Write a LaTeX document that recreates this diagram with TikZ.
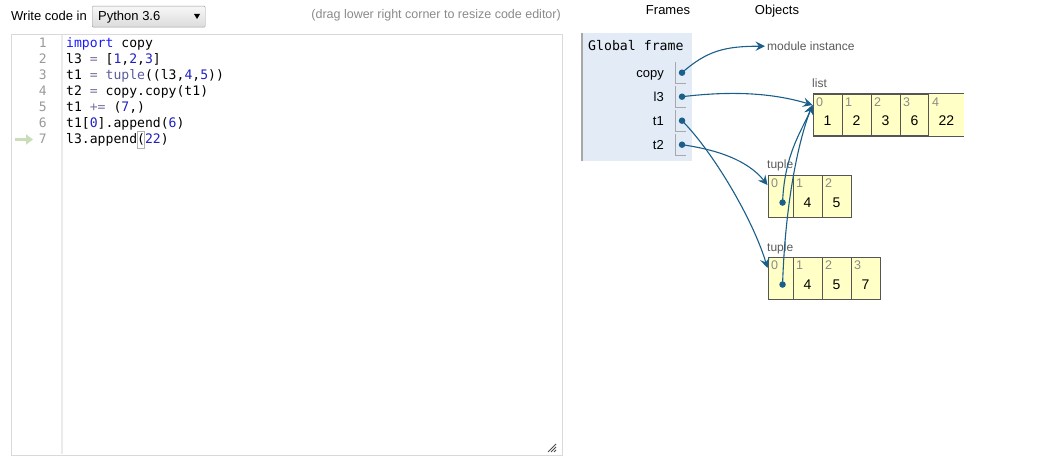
\documentclass[tikz,border=0pt]{standalone}
\usepackage{fontspec}
\setmainfont{Liberation Sans}
\setmonofont{DejaVu Sans Mono}
\usepackage{tikz}
\usetikzlibrary{arrows.meta}

\definecolor{refblue}{HTML}{1A5E8A}
\definecolor{heapyellow}{HTML}{FFFFC6}
\definecolor{heapline}{HTML}{555555}
\definecolor{framebg}{HTML}{E2EBF6}
\definecolor{framegrey}{HTML}{A8A8A8}
\definecolor{hintgrey}{HTML}{8A8A8A}
\definecolor{gutterline}{HTML}{EBEBEB}
\definecolor{editorline}{HTML}{D9D9D9}
\definecolor{curgreen}{HTML}{C8DDB8}
\definecolor{kwblue}{HTML}{1A1AFF}
\definecolor{numblue}{HTML}{2020C0}
\definecolor{bipurple}{HTML}{5A5AA0}
\definecolor{opgrey}{HTML}{7E72A0}

\begin{document}
\begin{tikzpicture}[x=1pt,y=-1pt,
    label13/.style={inner sep=0pt, anchor=base west, font=\fontsize{13}{15}\selectfont},
    code/.style={inner sep=0pt, anchor=base west, font=\ttfamily\fontsize{13.1}{15}\selectfont},
    lnum/.style={inner sep=0pt, anchor=base east, text=black!40, font=\ttfamily\fontsize{13}{15}\selectfont},
    varname/.style={inner sep=0pt, anchor=base east, font=\fontsize{13}{15}\selectfont},
    heaplabel/.style={inner sep=0pt, anchor=base west, text=black!65, font=\fontsize{12}{14}\selectfont},
    cell/.style={draw=heapline, fill=heapyellow, line width=1.1pt, minimum height=42pt, inner sep=0pt, anchor=north west},
    idx/.style={inner sep=0pt, text=hintgrey, font=\fontsize{12.5}{14}\selectfont},
    val/.style={inner sep=0pt, font=\fontsize{14}{16}\selectfont},
    ptr/.style={circle, fill=refblue, inner sep=0pt, minimum size=6.5pt},
    ref/.style={draw=refblue, line width=1.1pt, -{Stealth[length=9.5pt,width=9.5pt,inset=3.5pt]}},
    slot/.style={draw=framegrey, line width=1pt}]
    \useasboundingbox (0,0) rectangle (1054,465);

    % code editor header
    \node[label13] (writein) at (11,20.5) {Write code in};
    \node[draw=black!40, top color=black!3, bottom color=black!14, rounded corners=1pt,
          minimum width=113pt, minimum height=21pt, anchor=north west] (lang) at (92,6) {};
    \node[label13] (langtxt) at (98,20.5) {Python 3.6};
    \fill (194,14) -- (200,14) -- (197,19) -- cycle;
    \node[inner sep=0pt, anchor=base east, text=hintgrey, font=\fontsize{12.5}{14}\selectfont] (hint) at (561,18.5)
        {(drag lower right corner to resize code editor)};

    % editor
    \node[draw=editorline, line width=1pt, minimum width=551pt, minimum height=421pt, anchor=north west] (editor) at (11,34) {};
    \draw[gutterline, line width=2.5pt] (62,35) -- (62,454);
    \foreach \n in {1,...,7}
        \node[lnum] (num\n) at (47,{47.5+16*(\n-1)}) {\n};
    \node[code] (line1) at (66,47.5) {\textcolor{kwblue}{import} copy};
    \node[code] (line2) at (66,63.5) {l3 \textcolor{opgrey}{=} [\textcolor{numblue}{1},\textcolor{numblue}{2},\textcolor{numblue}{3}]};
    \node[code] (line3) at (66,79.5) {t1 \textcolor{opgrey}{=} \textcolor{bipurple}{tuple}((l3,\textcolor{numblue}{4},\textcolor{numblue}{5}))};
    \node[code] (line4) at (66,95.5) {t2 \textcolor{opgrey}{=} copy.copy(t1)};
    \node[code] (line5) at (66,111.5) {t1 \textcolor{opgrey}{+=} (\textcolor{numblue}{7},)};
    \node[code] (line6) at (66,127.5) {t1[\textcolor{numblue}{0}].append(\textcolor{numblue}{6})};
    \node[code] (line7) at (66,143.5) {l3.append(\textcolor{numblue}{22})};
    \draw[black!30, line width=0.8pt] (137,131) rectangle (144,148);
    \draw[curgreen, line width=3.5pt, -{Triangle[length=7pt,width=10pt]}] (15,139.5) -- (33,139.5);
    \foreach \d in {0,3,6}
        \draw[black!70, line width=0.8pt] (548+\d,452) -- (556,444+\d);

    % frames
    \node[label13, anchor=base] (frames) at (668,15) {Frames};
    \node[label13, anchor=base] (objects) at (777,15) {Objects};
    \fill[framebg] (581,33) rectangle (692,161);
    \draw[framegrey, line width=1.5pt] (582,33) -- (582,161);
    \node[code, font=\ttfamily\fontsize{13.2}{15}\selectfont] (gframe) at (588,50.5) {Global frame};
    \node[varname] (vcopy) at (664,77.4) {copy};
    \node[varname] (vl3) at (664,101.4) {l3};
    \node[varname] (vt1) at (664,125.4) {t1};
    \node[varname] (vt2) at (664,149.4) {t2};
    \foreach \c in {72.7,96.7,120.7,144.7}
        \draw[slot] (675,\c-11) -- (675,\c+10.5) -- (686,\c+10.5);
    \node[ptr] (pcopy) at (682,72.7) {};
    \node[ptr] (pl3) at (682,96.7) {};
    \node[ptr] (pt1) at (682,120.7) {};
    \node[ptr] (pt2) at (682,144.7) {};

    % objects
    \node[heaplabel] (modinst) at (767,50.5) {module instance};

    \node[heaplabel] (listlbl) at (812,88) {list};
    \foreach \i/\v in {0/1,1/2,2/3,3/6} {
        \node[cell, minimum width=29pt] (list\i) at (812.5+29*\i,93.5) {};
        \node[idx] at ([xshift=7pt,yshift=-8.5pt]list\i.north west) {\i};
        \node[val] at ([yshift=-6pt]list\i.center) {\v};
    }
    \node[cell, draw=none, minimum width=34.5pt] (list4) at (928.5,93.5) {};
    \draw[heapline, line width=1.1pt] (list4.north east) -- (list4.north west) -- (list4.south west) -- (list4.south east);
    \node[idx] at ([xshift=7pt,yshift=-8.5pt]list4.north west) {4};
    \node[val] at ([yshift=-6pt]list4.center) {22};

    \node[heaplabel] (tupalbl) at (767,169) {tuple};
    \node[cell, minimum width=25pt] (tupa0) at (767.5,175) {};
    \foreach \i/\v in {1/4,2/5} {
        \node[cell, minimum width=29pt] (tupa\i) at (763.5+29*\i,175) {};
        \node[val] at ([yshift=-6pt]tupa\i.center) {\v};
    }
    \foreach \i in {0,1,2}
        \node[idx] at ([xshift=7pt,yshift=-8.5pt]tupa\i.north west) {\i};

    \node[heaplabel] (tupblbl) at (767,251) {tuple};
    \node[cell, minimum width=25pt] (tupb0) at (767.5,257) {};
    \foreach \i/\v in {1/4,2/5,3/7} {
        \node[cell, minimum width=29pt] (tupb\i) at (763.5+29*\i,257) {};
        \node[val] at ([yshift=-6pt]tupb\i.center) {\v};
    }
    \foreach \i in {0,1,2,3}
        \node[idx] at ([xshift=7pt,yshift=-8.5pt]tupb\i.north west) {\i};

    \node[ptr] (ptupa) at ([xshift=2pt,yshift=-6pt]tupa0.center) {};
    \node[ptr] (ptupb) at ([xshift=2pt,yshift=-6pt]tupb0.center) {};

    \coordinate (listin) at ([yshift=-11.5pt]list0.north west);
    \coordinate (tupain) at ([yshift=-10pt]tupa0.north west);
    \coordinate (tupbin) at ([yshift=-11pt]tupb0.north west);

    % references
    \draw[ref] (pcopy.center) .. controls +(25,-22) and +(-40,0) .. ([xshift=-2pt]modinst.west);
    \draw[ref] (pl3.center) .. controls +(50,-6) and +(-40,-12) .. (listin);
    \draw[ref] (pt1.center) .. controls +(30,30) and +(-15,-50) .. (tupbin);
    \draw[ref] (pt2.center) .. controls +(35,5) and +(-20,-25) .. (tupain);
    \draw[ref] (ptupa.center) .. controls +(2,-50) and +(-10,25) .. (listin);
    \draw[ref] (ptupb.center) .. controls +(3,-90) and +(-12,30) .. (listin);
\end{tikzpicture}
\end{document}
